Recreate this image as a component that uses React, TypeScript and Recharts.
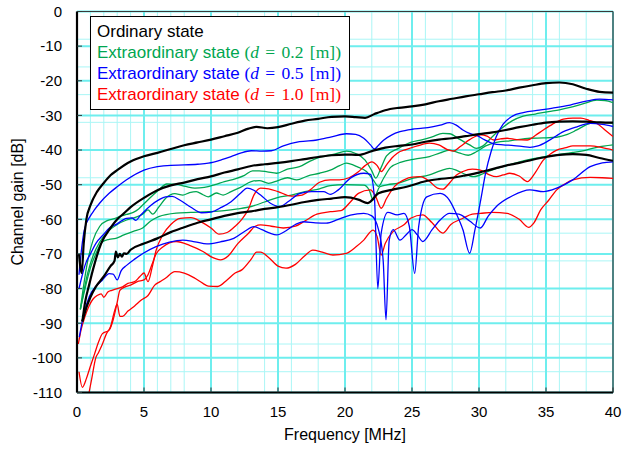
import React from 'react';
import { LineChart, Line, XAxis, YAxis, CartesianGrid, Legend, ReferenceLine } from 'recharts';

type Pt = [number, number];

const freqTicks = [0, 5, 10, 15, 20, 25, 30, 35, 40];
const gainTicks = [-110, -100, -90, -80, -70, -60, -50, -40, -30, -20, -10, 0];
const minorFreq = Array.from({ length: 41 }, (_, i) => i);
const minorGain = Array.from({ length: 56 }, (_, i) => -110 + i * 2);

// ordinary state
const ordinaryHigh: Pt[] = [
  [0.15, -70], [0.35, -75.5], [0.5, -67], [0.7, -60], [1, -56], [1.5, -52], [2, -49.5], [2.5, -47.3],
  [3, -45.8], [4, -43.3], [5, -41.8], [6, -40.8], [7, -39.7], [8, -38.6], [9, -37.8], [10, -37],
  [11, -36], [12, -35], [12.8, -33.8], [13.4, -33.3], [14.2, -33.7], [15, -33.4], [16, -32.4],
  [17, -31.5], [18, -31], [19, -30.4], [20, -30.3], [20.8, -30.5], [21.5, -30.7], [22.2, -29.6],
  [23, -28.5], [24, -27.8], [25, -27.4], [26, -26.8], [27, -25.9], [28, -25.2], [29, -24.5],
  [30, -23.9], [31, -23.3], [32, -22.8], [33, -22], [34, -21.3], [35, -20.7], [36, -20.5],
  [37, -21], [38, -22.3], [39, -23.2], [40, -23.4],
];
const ordinaryMid: Pt[] = [
  [0.4, -89.5], [0.6, -84], [0.9, -79], [1.3, -73], [1.8, -67], [2.5, -62.5], [3, -60], [3.5, -58.3],
  [4, -56.5], [5, -53.8], [6, -51.6], [7, -50.2], [8, -49.4], [9, -48.4], [10, -47.6], [11, -46.5],
  [12, -45.6], [13, -44.6], [14, -44.1], [15, -43.7], [16, -43.2], [17, -42.6], [18, -42],
  [19, -41.5], [20, -41.3], [21, -41.4], [22, -40.3], [23, -39.3], [24, -38.8], [25, -38.4],
  [26, -37.6], [27, -37], [28, -36.6], [29, -36], [30, -35.4], [31, -34.9], [32, -34.2],
  [33, -33.4], [34, -32.7], [35, -32.1], [36, -31.8], [37, -31.7], [38, -31.8], [39, -32], [40, -32.1],
];
const ordinaryLow: Pt[] = [
  [0.4, -89.5], [0.7, -85.5], [1, -82.5], [1.4, -79.5], [2, -76.5], [2.5, -73.5], [2.8, -72],
  [2.9, -69.3], [3.05, -71], [3.2, -70], [3.35, -70.8], [3.5, -69.8], [3.7, -70], [4, -68.8],
  [5, -67], [6, -65.5], [7, -63.7], [8, -62.3], [9, -61], [10, -60], [11, -59], [12, -58.2],
  [13, -57.7], [14, -57], [15, -56.5], [16, -55.8], [17, -55], [18, -54.4], [19, -54], [20, -53.6],
  [21, -54.3], [21.7, -55.3], [22.5, -52.5], [23.5, -51.5], [24.6, -50.6], [26, -49], [27, -48.4],
  [28, -48], [29, -47.3], [30, -46.5], [31, -45.5], [32, -44.5], [33, -43.7], [34, -42.8],
  [35, -42], [36, -41.4], [37, -41.2], [38, -41.4], [39, -42.3], [40, -43.1],
];

// extraordinary state, d = 0.2 m
const green02High: Pt[] = [
  [0.25, -86], [0.5, -79], [0.8, -72], [1.2, -66], [1.7, -62], [2.3, -60.3], [2.8, -59.8], [3.3, -59],
  [3.7, -58.6], [4.2, -58], [4.6, -57], [5, -55.5], [5.4, -54], [6.1, -51.5], [6.7, -49.8],
  [7.4, -49.9], [8.1, -50.5], [8.8, -51], [9.5, -50.8], [10.3, -50], [11, -49.1], [11.8, -48.3],
  [12.5, -47.3], [13.1, -46], [13.6, -46], [14.2, -46.3], [14.9, -46.7], [15.7, -45.5],
  [16.6, -44.8], [17.4, -43.2], [18.2, -42], [19.2, -41.2], [20.1, -40.3], [20.8, -41],
  [21.5, -42.9], [22, -46], [22.3, -48.1], [22.7, -45], [23.1, -41.7], [24, -39.5], [24.9, -37.8],
  [25.8, -37], [26.5, -36.2], [27.3, -35.2], [27.8, -35.3], [28.6, -37], [29.3, -38.5],
  [29.8, -39.5], [30.3, -38.8], [30.9, -36.5], [31.6, -34], [32.5, -31.5], [33.3, -30.2],
  [34.2, -29.6], [35.2, -28.9], [36, -28.4], [36.8, -27.7], [37.8, -26.6], [38.8, -25.6],
  [39.4, -25.7], [40, -26.3],
];
const green02Mid: Pt[] = [
  [0.25, -86], [0.5, -81], [0.8, -75.5], [1.2, -70.5], [1.7, -66.5], [2.4, -63.2], [3, -61.5],
  [3.7, -60.2], [4.3, -59.5], [4.9, -58.5], [5.3, -57.3], [5.65, -58.5], [6.1, -56.5], [6.6, -54],
  [7.3, -52.6], [7.9, -53], [8.4, -52.3], [8.9, -52], [9.4, -52.9], [9.8, -53.5], [10.4, -52.4],
  [10.9, -53], [11.5, -52], [12.2, -50.8], [13, -49.1], [13.6, -48.8], [14.3, -49.6], [15, -48.8],
  [15.7, -48], [16.4, -48.6], [17.2, -47.5], [18.1, -46.7], [18.9, -45.8], [19.6, -44.5],
  [20.1, -43.8], [20.9, -44.8], [21.6, -46.2], [22.1, -48.6], [22.5, -50.5], [22.9, -48],
  [23.4, -45], [24.2, -43.5], [25.2, -42.6], [26.3, -41.9], [27.1, -40.8], [27.8, -40],
  [28.5, -40.8], [29.2, -41.5], [29.8, -40.5], [30.5, -38.8], [31.3, -37.8], [32.4, -37.3],
  [33.8, -36.6], [34.8, -36.5], [35.8, -36.3], [36.6, -35.5], [37.3, -34.2], [38.3, -32.3],
  [39.1, -32], [40, -32.3],
];
const green02Low: Pt[] = [
  [0.25, -86], [0.6, -80], [1, -74], [1.4, -70], [1.9, -66.5], [2.4, -65.8], [2.9, -65.5],
  [3.5, -64.5], [4.2, -63.5], [4.9, -62.5], [5.5, -60.5], [6.1, -59.2], [7.4, -58.2], [8.5, -58],
  [9.8, -57.8], [11, -57.5], [12, -57], [13, -56.3], [14, -55], [14.9, -53.8], [16, -53],
  [17, -52], [18.1, -51.2], [18.9, -50.3], [20, -50], [21.4, -50.1], [21.8, -51.5], [22.1, -54.4],
  [22.6, -50.6], [23.2, -50], [23.9, -49.6], [25.1, -48.1], [26.3, -47.2], [27.1, -46],
  [27.8, -45.3], [28.3, -45.8], [28.8, -46.7], [29.6, -47.7], [30.5, -46.5], [31.3, -45.3],
  [32.5, -44], [33.8, -42.7], [34.8, -42], [35.8, -41.4], [37, -40.7], [38, -40], [38.8, -39.2],
  [40, -38.5],
];

// extraordinary state, d = 0.5 m
const blue05High: Pt[] = [
  [0.15, -76], [0.3, -70], [0.55, -63], [1, -59], [1.3, -57.3], [1.7, -55.3], [2.4, -52.5],
  [3, -50.6], [3.7, -48.6], [5, -45.8], [6, -44.8], [7, -44.4], [8, -44.3], [9, -44.1],
  [9.8, -43.8], [10.8, -42.8], [11.5, -41.9], [12.2, -40.9], [13, -40.2], [13.8, -40.3],
  [14.5, -40.2], [15.4, -38.8], [16.6, -37.6], [17.9, -37.1], [19, -36.2], [20.1, -35.3],
  [20.8, -35.5], [21.4, -36.6], [21.9, -38.5], [22.2, -39.7], [22.5, -38.6], [22.9, -37.1],
  [23.5, -35.6], [24.1, -34.7], [25, -34], [25.8, -33.7], [26.5, -33.3], [27.1, -32.8],
  [27.8, -32.1], [28.3, -32.8], [28.8, -34.2], [29.3, -35.2], [29.8, -35.7], [30.4, -37],
  [31.1, -38.2], [31.8, -38.5], [32.6, -38.7], [33.3, -39], [33.8, -39.2], [34.4, -38.8],
  [35.2, -37.3], [36.3, -34.7], [37.3, -33.3], [38.3, -32.3], [39.2, -32.6], [40, -33.2],
];
const blue05Mid: Pt[] = [
  [0.15, -80], [0.4, -76], [0.67, -72.5], [1, -70], [1.4, -67], [2, -64.3], [2.4, -62.6], [3, -61.3],
  [3.7, -59.7], [4.1, -59.6], [4.4, -60.3], [4.7, -59], [5, -57.8], [5.5, -56], [6.1, -54.4],
  [6.6, -53.5], [7.1, -53.4], [7.7, -54.5], [8.5, -56.5], [9.3, -58.1], [10, -57.9], [10.8, -56.5],
  [11.5, -54.9], [12.2, -52.5], [12.7, -51], [13.2, -51.6], [13.7, -53], [14.5, -55.5],
  [15.1, -56.3], [15.8, -54.8], [16.6, -52.6], [17.5, -52], [18.4, -52], [18.9, -52.8],
  [19.5, -51.5], [20.4, -48.1], [21.4, -46.7], [21.9, -47], [22.2, -54], [22.45, -80],
  [22.7, -64], [23.2, -58], [23.9, -58.7], [24.4, -58.3], [24.8, -62], [25.2, -75.6], [25.5, -62],
  [26.1, -53.5], [27.1, -52.5], [27.8, -54.5], [28.3, -58.3], [28.8, -63], [29.3, -69.8],
  [29.7, -63], [30.1, -55], [30.5, -46.5], [30.9, -40.5], [31.3, -36], [31.8, -32.5],
  [32.5, -30.2], [33.3, -29.2], [34.5, -28.5], [35.5, -27.9], [36.8, -27], [38, -25.9],
  [39, -25.3], [40, -25.5],
];
const blue05Low: Pt[] = [
  [0.17, -94], [0.5, -87.5], [0.92, -82.3], [1.5, -79], [1.9, -77.5], [2.4, -75.7], [2.7, -75.8],
  [3, -77.5], [3.3, -74.8], [3.7, -73.3], [4.3, -71.5], [4.95, -69.8], [5.9, -67.9], [6.9, -66.6],
  [7.9, -66], [8.8, -66.5], [9.7, -67.1], [10.7, -66.5], [11.7, -65.5], [12.5, -63.5], [13.2, -62.1],
  [13.8, -63], [14.4, -64], [14.9, -64.5], [15.6, -63.3], [16.3, -61.5], [16.9, -60.7],
  [17.8, -61], [18.6, -61.1], [19.5, -60], [20.4, -58.8], [21.4, -58.3], [22, -59], [22.5, -63],
  [22.85, -72], [23.06, -89], [23.3, -66], [23.6, -63], [24.1, -66], [24.6, -64.3], [25, -63],
  [25.4, -64.5], [25.8, -66.4], [26.5, -63], [27.1, -60.2], [27.8, -58.3], [28.5, -58.5],
  [29.3, -60.5], [30.1, -62.5], [30.7, -59], [31.3, -56.3], [32.5, -53.2], [33.8, -51.5],
  [34.8, -52], [35.8, -51], [37, -48.6], [38.3, -44.8], [39.2, -43.7], [40, -43.4],
];

// extraordinary state, d = 1.0 m
const red10High: Pt[] = [
  [0.1, -96], [0.3, -92], [0.6, -88], [0.9, -85], [1.2, -83], [1.5, -82], [1.8, -81.5], [2, -82.5],
  [2.3, -81], [2.6, -80.5], [3, -80], [3.4, -79.5], [3.8, -78.5], [4.3, -78], [4.7, -76.5],
  [5, -75.5], [5.3, -78], [5.6, -74], [5.9, -69], [6.4, -64.5], [7, -61.5], [7.7, -59.7],
  [8.5, -59.5], [9.3, -60.8], [10, -62.5], [10.6, -64.3], [11.2, -63.8], [11.8, -62], [12.3, -60],
  [12.8, -57], [13.2, -53], [13.7, -51], [14.3, -51.2], [15, -52], [16, -53.3], [16.8, -53],
  [17.4, -51.5], [18.1, -49.3], [18.9, -48.6], [19.6, -48.6], [20.3, -48], [21, -46.3],
  [21.5, -44.5], [22, -43.4], [22.4, -44.5], [22.7, -46.2], [23.1, -44.3], [23.5, -42.3],
  [23.9, -40.9], [24.6, -39.8], [25.4, -38.8], [26.3, -38], [27, -38.5], [27.6, -39.8],
  [28.1, -40.3], [28.6, -39], [29.3, -37], [30.1, -35.6], [30.6, -36], [31.1, -37.1],
  [31.6, -36.8], [32.1, -36.6], [32.8, -37], [33.6, -37.1], [34.2, -35.8], [34.8, -34.2],
  [35.5, -32.5], [36.3, -31.1], [37, -30.8], [37.6, -30.8], [38.2, -31.4], [38.8, -32.3],
  [39.4, -34.2], [40, -36.1],
];
const red10Mid: Pt[] = [
  [0.15, -104], [0.4, -108.5], [0.7, -106], [0.95, -103], [1.3, -99], [1.6, -95.5], [1.9, -93],
  [2.4, -92], [2.7, -89], [3, -84], [3.2, -80.5], [3.6, -79.5], [4, -79], [4.5, -78], [5, -77.5],
  [5.3, -76], [5.6, -73], [5.9, -70], [6.4, -68], [7.4, -66.4], [8.4, -67.5], [9.4, -69.3],
  [10.1, -71], [10.7, -71.7], [11.3, -70.5], [12, -67], [12.8, -64], [13.3, -62], [13.7, -61.6],
  [14.5, -62], [15.4, -62.5], [16.3, -62], [17, -60.5], [17.9, -58.5], [18.9, -57.8],
  [19.7, -57.5], [20.4, -55], [21, -52.5], [21.9, -51.5], [22.3, -53.5], [22.7, -56.8],
  [23.1, -54], [23.7, -50.5], [24.4, -48.6], [25, -47.8], [25.6, -47.7], [26.3, -49], [26.9, -51],
  [27.3, -51.3], [27.8, -49.5], [28.3, -47.3], [28.8, -46.2], [29.5, -45.5], [30.1, -45.8],
  [30.7, -47], [31.3, -47.7], [31.8, -47.2], [32.3, -46.7], [33, -47.5], [33.6, -49.1],
  [34.2, -46.5], [34.8, -42.9], [35.3, -41.2], [35.8, -40], [36.5, -39.3], [37, -38.8],
  [38.3, -38.8], [39.2, -39.3], [40, -40],
];
const red10Low: Pt[] = [
  [0.9, -110], [1.1, -106], [1.4, -100], [1.6, -98.5], [1.9, -96], [2.2, -93], [2.5, -91],
  [2.8, -86.5], [3, -84.5], [3.2, -88], [3.4, -88], [3.8, -86.5], [4.3, -85], [4.8, -83.3],
  [5.3, -82], [5.8, -79], [6.2, -78], [6.6, -77], [7.3, -75.1], [8, -75.5], [8.8, -77], [9.4, -78.5],
  [9.8, -79.3], [10.5, -79.4], [11.2, -77.5], [11.8, -75.5], [12.3, -74.6], [13, -71.5],
  [13.4, -69.5], [13.7, -69.5], [14.3, -71], [15, -73.5], [15.6, -74.1], [16.3, -73], [17, -70.5],
  [17.6, -68.9], [18.3, -69.5], [19.1, -70.3], [20.1, -69.8], [20.8, -68], [21.4, -66],
  [22.1, -63.1], [22.4, -65], [22.7, -70.3], [23, -67], [23.6, -63.5], [24.4, -61.6],
  [24.9, -59.7], [25.8, -58.7], [26.5, -61], [27.3, -64], [27.9, -61.5], [28.8, -59.7],
  [29.5, -58.5], [30.1, -58.3], [31, -58], [32.1, -58.3], [33, -60], [33.7, -62.3], [34.1, -61],
  [34.6, -57.3], [35.2, -54.5], [35.8, -51.5], [36.4, -49.8], [37, -48.6], [38.3, -47.9],
  [39.2, -48], [40, -48.2],
];

const GREEN = '#00a650';
const BLUE = '#0000ff';
const RED = '#ff0000';
const SANS = "'Liberation Sans', Arial, sans-serif";
const SERIF = "'Liberation Serif', 'Times New Roman', serif";

const series = [
  { key: 'g1', data: green02High, color: GREEN, width: 1.3 },
  { key: 'g2', data: green02Mid, color: GREEN, width: 1.3 },
  { key: 'g3', data: green02Low, color: GREEN, width: 1.3 },
  { key: 'r1', data: red10High, color: RED, width: 1.3 },
  { key: 'r2', data: red10Mid, color: RED, width: 1.3 },
  { key: 'r3', data: red10Low, color: RED, width: 1.3 },
  { key: 'b1', data: blue05High, color: BLUE, width: 1.3 },
  { key: 'b2', data: blue05Mid, color: BLUE, width: 1.3 },
  { key: 'b3', data: blue05Low, color: BLUE, width: 1.3 },
  { key: 'k1', data: ordinaryHigh, color: '#000', width: 2.2 },
  { key: 'k2', data: ordinaryMid, color: '#000', width: 2.2 },
  { key: 'k3', data: ordinaryLow, color: '#000', width: 2.2 },
];

const legendRows = [
  { label: 'Ordinary state', color: '#000', d: '' },
  { label: 'Extraordinary state ', color: GREEN, d: '0.2' },
  { label: 'Extraordinary state ', color: BLUE, d: '0.5' },
  { label: 'Extraordinary state ', color: RED, d: '1.0' },
];

const toRows = (pts: Pt[]) => pts.map(([f, g]) => ({ f, g }));

const renderLegend = () => (
  <div
    style={{
      border: '1.3px solid #000',
      background: '#fff',
      padding: '4px 8px 4px 6px',
      fontFamily: SANS,
      fontSize: 17,
      lineHeight: '21px',
      whiteSpace: 'nowrap',
    }}
  >
    {legendRows.map((row, i) => (
      <div key={i} style={{ color: row.color }}>
        {row.label}
        {row.d && (
          <span style={{ fontFamily: SERIF, fontSize: 17.5, wordSpacing: 2 }}>
            (<i>d</i> = {row.d} [m])
          </span>
        )}
      </div>
    ))}
  </div>
);

const tickStyle = { fill: '#000', fontSize: 15, fontFamily: SANS };

export default function App() {
  return (
    <div style={{ position: 'absolute', left: 0, top: 0, fontFamily: SANS }}>
      <LineChart width={623} height={450} margin={{ top: 11.5, right: 10, left: 0, bottom: 0 }}>
        <CartesianGrid
          verticalValues={minorFreq}
          horizontalValues={minorGain}
          stroke="#aaf6f6"
          strokeWidth={1}
        />
        <CartesianGrid stroke="#6eeeee" strokeWidth={2} />
        <XAxis
          dataKey="f"
          type="number"
          domain={[0, 40]}
          ticks={freqTicks}
          allowDataOverflow
          height={57.5}
          tickSize={-5}
          tickMargin={19}
          tick={tickStyle}
          tickLine={{ stroke: '#333' }}
          axisLine={{ stroke: '#000', strokeWidth: 2.2 }}
          label={{ value: 'Frequency [MHz]', position: 'insideBottom', offset: 10, fill: '#000', fontSize: 16, fontFamily: SANS }}
        />
        <YAxis
          type="number"
          domain={[-110, 0]}
          ticks={gainTicks}
          allowDataOverflow
          width={77}
          tickSize={-5}
          tickMargin={20}
          tick={tickStyle}
          tickLine={{ stroke: '#333' }}
          axisLine={{ stroke: '#000', strokeWidth: 2.2 }}
          label={{
            value: 'Channel gain [dB]',
            angle: -90,
            position: 'insideLeft',
            offset: 17.5,
            fill: '#000',
            fontSize: 16,
            fontFamily: SANS,
            style: { textAnchor: 'middle' },
          }}
        />
        <ReferenceLine y={0} stroke="#3a3a3a" strokeWidth={1.2} />
        <ReferenceLine x={40} stroke="#3a3a3a" strokeWidth={1.2} />
        {series.map((s) => (
          <Line
            key={s.key}
            data={toRows(s.data)}
            dataKey="g"
            type="monotone"
            stroke={s.color}
            strokeWidth={s.width}
            dot={false}
            activeDot={false}
            legendType="none"
            isAnimationActive={false}
          />
        ))}
        <Legend
          content={renderLegend}
          layout="horizontal"
          align="center"
          verticalAlign="middle"
          wrapperStyle={{ left: 90, top: 16, width: 'auto' }}
        />
      </LineChart>
    </div>
  );
}
